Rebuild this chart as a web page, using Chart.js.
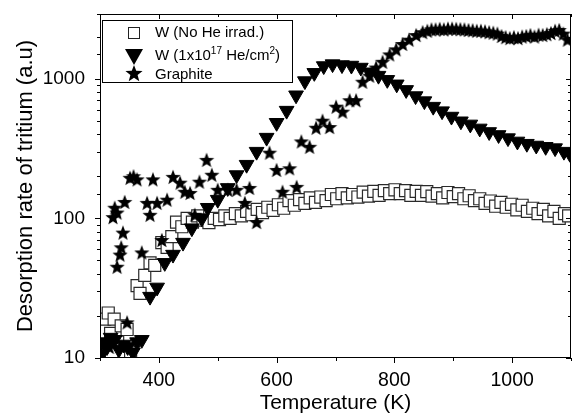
<!DOCTYPE html>
<html>
<head>
<meta charset="utf-8">
<script src="https://cdn.jsdelivr.net/npm/chart.js@4.4.1/dist/chart.umd.min.js"></script>
<style>
  html, body { margin: 0; padding: 0; background: #fff; }
  #chart { display: block; }
</style>
</head>
<body>
<canvas id="chart" width="572" height="420"></canvas>
<script>
// Tritium desorption spectra: W without He, W after He irradiation, graphite.

const xTitle = 'Temperature (K)';
const yTitle = 'Desorption rate of tritium (a.u)';

// W (No He irrad.) -- open squares
const sqTemp = [303, 308, 314, 318, 324, 330, 336, 341, 346, 352, 363, 368, 376, 385, 393, 405,
  414, 422, 430, 439, 448, 457, 466, 475, 485, 494, 503, 512, 521, 530, 540, 549, 558, 567,
  576, 585, 594, 603, 612, 621, 630, 639, 648, 657, 666, 675, 684, 693, 702, 711, 720, 729,
  738, 747, 756, 765, 774, 783, 792, 801, 810, 819, 828, 837, 846, 855, 864, 873, 882, 891,
  900, 909, 918, 927, 936, 945, 954, 963, 972, 981, 990, 999, 1008, 1017, 1026, 1035, 1044,
  1053, 1062, 1071, 1080, 1089, 1096];
const sqRate = [12, 19, 21, 15, 19, 13, 17, 11, 16, 11, 33, 29, 39, 48, 46, 67,
  62, 74, 94, 87, 100, 94, 104, 97, 93, 100, 98, 104, 100, 108, 104, 112, 106, 116,
  110, 120, 114, 125, 118, 134, 124, 136, 128, 140, 130, 142, 134, 148, 138, 150, 140, 148,
  142, 154, 144, 156, 146, 158, 150, 160, 150, 158, 146, 156, 146, 155, 144, 150, 140, 153,
  143, 150, 138, 145, 134, 138, 128, 133, 122, 130, 120, 126, 115, 124, 112, 118, 108,
  116, 104, 112, 100, 108, 104];

// W (1x10^17 He/cm^2) -- filled down triangles
const triTemp = [302, 306, 312, 318, 325, 332, 340, 347, 356, 363, 371, 385, 397, 410, 424,
  441, 456, 473, 483, 500, 517, 532, 549, 566, 583, 600, 617, 633, 648, 664, 680, 695, 711,
  727, 743, 758, 773, 788, 804, 820, 836, 851, 866, 881, 897, 913, 929, 945, 961, 977, 993,
  1009, 1025, 1041, 1057, 1073, 1088, 1098];
const triRate = [10.5, 13, 12, 14, 13.5, 11.5, 12.5, 12, 11, 13, 13.5, 27.5, 32, 48, 55,
  67, 85, 100, 119, 136, 165, 204, 242, 300, 378, 483, 590, 760, 960, 1100, 1230, 1270, 1250,
  1240, 1200, 1110, 1050, 980, 910, 830, 750, 690, 630, 585, 535, 495, 470, 440, 415, 395, 375,
  355, 342, 332, 325, 318, 300, 290];

// Graphite -- filled stars
const starTemp = [303, 309, 316, 346, 322, 325, 329, 329, 334, 336, 339, 342, 351, 357, 363,
  371, 380, 385, 390, 397, 405, 414, 424, 436, 444, 453, 461, 469, 481, 490, 500, 517, 532,
  546, 554, 566, 588, 600, 610, 622, 634, 642, 656, 667, 678, 690, 701, 712, 724, 735, 746,
  758, 769, 780, 792, 803, 814, 825, 837, 848, 856, 863, 870, 877, 884, 891, 898, 905, 912,
  919, 926, 933, 940, 947, 954, 961, 968, 975, 982, 989, 996, 1003, 1010, 1017, 1024, 1031,
  1038, 1045, 1052, 1059, 1066, 1073, 1080, 1087, 1094];
const starRate = [11, 13, 12, 18, 102, 119, 110, 45, 55, 62, 79, 131, 195, 200, 190,
  57, 129, 106, 190, 129, 70, 136, 198, 180, 155, 152, 106, 183, 262, 205, 160, 160, 160,
  129, 165, 94, 295, 222, 155, 228, 168, 355, 325, 445, 500, 450, 630, 580, 700, 700, 950,
  1050, 1200, 1320, 1490, 1620, 1770, 1900, 2050, 2150, 2200, 2250, 2250, 2270, 2250, 2280, 2280, 2270, 2260,
  2250, 2230, 2220, 2200, 2200, 2180, 2150, 2130, 2100, 2020, 1980, 1950, 1980, 1950, 2000, 2020, 2050,
  2000, 2060, 2050, 2080, 2120, 2200, 2230, 2100, 1900];

const FONT = '"Liberation Sans", Arial, Helvetica, sans-serif';

function pairs(xs, ys) {
  return xs.map((x, i) => ({ x: x, y: ys[i] }));
}

// Filled five-point star, used as a point image (Chart.js 'star' is only an asterisk).
function makeStar(r) {
  const size = Math.ceil(r * 2) + 2;
  const c = document.createElement('canvas');
  c.width = size;
  c.height = size;
  const g = c.getContext('2d');
  g.translate(size / 2, size / 2 + r * 0.1);
  g.beginPath();
  for (let i = 0; i < 10; i++) {
    const rr = i % 2 ? r * 0.42 : r;
    const ang = -Math.PI / 2 + i * Math.PI / 5;
    g.lineTo(Math.cos(ang) * rr, Math.sin(ang) * rr);
  }
  g.closePath();
  g.fillStyle = '#000';
  g.fill();
  return c;
}

const starImg = makeStar(8);
const starImgLegend = makeStar(9);

// Frame on all four sides, with outward ticks left/bottom and inward ticks top/right.
const frameTicks = {
  id: 'frameTicks',
  afterDatasetsDraw(chart) {
    const { ctx, chartArea: a, scales: { x, y } } = chart;
    ctx.save();
    ctx.strokeStyle = '#000';
    ctx.lineWidth = 1;
    ctx.strokeRect(a.left + 0.5, a.top + 0.5, a.right - a.left - 1, a.bottom - a.top - 1);
    ctx.beginPath();
    x.ticks.forEach((t) => {
      const px = Math.round(x.getPixelForValue(t.value)) + 0.5;
      const len = t.value % 200 === 0 ? 5 : 3;
      ctx.moveTo(px, a.bottom);
      ctx.lineTo(px, a.bottom + len);
      ctx.moveTo(px, a.top);
      ctx.lineTo(px, a.top + len);
    });
    y.ticks.forEach((t) => {
      const py = Math.round(y.getPixelForValue(t.value)) + 0.5;
      if (py < a.top || py > a.bottom + 1) return;
      const major = Math.abs(Math.log10(t.value) % 1) < 1e-6;
      const len = major ? 5 : 3;
      ctx.moveTo(a.left, py);
      ctx.lineTo(a.left - len, py);
      ctx.moveTo(a.right, py);
      ctx.lineTo(a.right - len, py);
    });
    ctx.stroke();
    ctx.restore();
  }
};

function drawRich(ctx, parts, x, y) {
  parts.forEach((p) => {
    ctx.font = (p.sup ? '10px ' : '15px ') + FONT;
    ctx.fillText(p.t, x, p.sup ? y - 6 : y);
    x += ctx.measureText(p.t).width;
  });
}

// Boxed legend in the upper left, with superscripts in the second entry.
const boxLegend = {
  id: 'boxLegend',
  afterDraw(chart) {
    const ctx = chart.ctx;
    ctx.save();
    ctx.strokeStyle = '#000';
    ctx.lineWidth = 1;
    ctx.strokeRect(102.5, 20.5, 190, 62);

    // square
    ctx.fillStyle = '#fff';
    ctx.fillRect(128.5, 27.5, 11, 11);
    ctx.strokeStyle = '#222';
    ctx.strokeRect(128.5, 27.5, 11, 11);
    // down triangle
    ctx.fillStyle = '#000';
    ctx.beginPath();
    ctx.moveTo(125, 49);
    ctx.lineTo(143, 49);
    ctx.lineTo(134, 65);
    ctx.closePath();
    ctx.fill();
    // star
    ctx.drawImage(starImgLegend, 134 - starImgLegend.width / 2, 73 - starImgLegend.height / 2);

    ctx.fillStyle = '#000';
    ctx.textBaseline = 'alphabetic';
    drawRich(ctx, [{ t: 'W (No He irrad.)' }], 155, 37);
    drawRich(ctx, [{ t: 'W (1x10' }, { t: '17', sup: true }, { t: ' He/cm' }, { t: '2', sup: true }, { t: ')' }], 155, 60);
    drawRich(ctx, [{ t: 'Graphite' }], 155, 79);
    ctx.restore();
  }
};

// Fixed axis boxes so the plot area lands where the reference has it.
function fixBox(size, horizontal) {
  return (s) => {
    if (horizontal) s.height = size; else s.width = size;
    s.paddingTop = 0;
    s.paddingBottom = 0;
    s.paddingLeft = 0;
    s.paddingRight = 0;
  };
}

new Chart(document.getElementById('chart'), {
  type: 'scatter',
  data: {
    datasets: [
      {
        label: 'W (No He irrad.)',
        data: pairs(sqTemp, sqRate),
        pointStyle: 'rect',
        pointRadius: 8.5,
        backgroundColor: '#fff',
        borderColor: '#2a2a2a',
        borderWidth: 1.2,
        order: 3
      },
      {
        label: 'W (1x10^17 He/cm^2)',
        data: pairs(triTemp, triRate),
        pointStyle: 'triangle',
        rotation: 180,
        pointRadius: 8.5,
        backgroundColor: '#000',
        borderColor: '#000',
        borderWidth: 1,
        order: 2
      },
      {
        label: 'Graphite',
        data: pairs(starTemp, starRate),
        pointStyle: starImg,
        pointRadius: 8,
        backgroundColor: '#000',
        borderColor: '#000',
        order: 1
      }
    ]
  },
  options: {
    responsive: false,
    animation: false,
    devicePixelRatio: 1,
    layout: { autoPadding: false, padding: { top: 14, right: 1, left: 0, bottom: 0 } },
    plugins: { legend: { display: false }, tooltip: { enabled: false } },
    scales: {
      x: {
        type: 'linear',
        min: 300,
        max: 1100,
        grid: { display: false, drawTicks: false },
        border: { display: false },
        ticks: {
          stepSize: 100,
          autoSkip: false,
          maxRotation: 0,
          padding: 11,
          color: '#000',
          font: { family: FONT, size: 19.5 },
          callback: (v) => (v % 200 === 0 ? String(v) : '')
        },
        title: {
          display: true,
          text: xTitle,
          color: '#000',
          font: { family: FONT, size: 21 },
          padding: { top: 0, bottom: 4 }
        },
        afterFit: fixBox(62, true)
      },
      y: {
        type: 'logarithmic',
        min: 10,
        max: 2900,
        grid: { display: false, drawTicks: false },
        border: { display: false },
        ticks: {
          autoSkip: false,
          padding: 15,
          color: '#000',
          font: { family: FONT, size: 19 },
          callback: (v) => (Math.abs(Math.log10(v) % 1) < 1e-6 ? String(Math.round(v)) : '')
        },
        title: {
          display: true,
          text: yTitle,
          color: '#000',
          font: { family: FONT, size: 22 },
          padding: { top: 13, bottom: 0 }
        },
        afterFit: fixBox(100, false)
      }
    }
  },
  plugins: [frameTicks, boxLegend]
});
</script>
</body>
</html>
